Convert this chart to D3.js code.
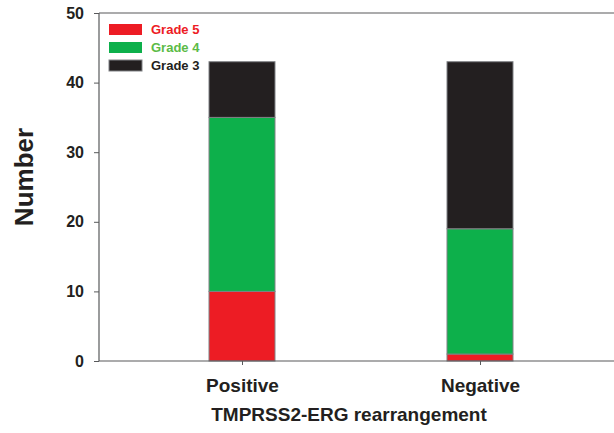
<!DOCTYPE html>
<html><head><meta charset="utf-8">
<script src="https://cdn.jsdelivr.net/npm/d3@7"></script>
<style>body{margin:0;background:#fff}svg{display:block}text{font-family:"Liberation Sans",Arial,sans-serif;font-weight:bold}</style>
</head><body><svg id="c" width="614" height="433"></svg>
<script>
const categories = ["Positive", "Negative"];
const grades = ["Grade 5", "Grade 4", "Grade 3"];
const grade5 = [10, 1];
const grade4 = [25, 18];
const grade3 = [8, 24];
const yTicks = [0, 10, 20, 30, 40, 50];

const colors = {"Grade 5": "#ED1C24", "Grade 4": "#0DB04B", "Grade 3": "#231F20"};
const textColors = {"Grade 5": "#ED1C24", "Grade 4": "#5BBB46", "Grade 3": "#231F20"};

const svg = d3.select("#c");
const mLeft = 99, mRight = 614, mTop = 13, mBottom = 361;
const y = d3.scaleLinear().domain([0, 50]).range([mBottom, mTop]);
const x = d3.scalePoint().domain(categories).range([242, 480]);
const barW = 66;

const rows = categories.map((c, i) => ({cat: c, "Grade 5": grade5[i], "Grade 4": grade4[i], "Grade 3": grade3[i]}));
const stack = d3.stack().keys(grades)(rows);

const axisColor = "#58595B";
svg.append("line").attr("x1", mLeft).attr("x2", mRight).attr("y1", mTop).attr("y2", mTop).attr("stroke", axisColor).attr("stroke-width", 1.2);

svg.append("g").selectAll("g").data(stack).join("g")
  .attr("fill", d => colors[d.key])
  .selectAll("rect").data(d => d).join("rect")
  .attr("x", d => x(d.data.cat) - barW/2)
  .attr("width", barW)
  .attr("y", d => y(d[1]))
  .attr("height", d => y(d[0]) - y(d[1]))
  .attr("stroke", "#808285").attr("stroke-width", 1);

const yAxis = svg.append("g").attr("transform", `translate(${mLeft},0)`)
  .call(d3.axisLeft(y).tickValues(yTicks).tickSize(5).tickPadding(10));
yAxis.select(".domain").attr("stroke", axisColor).attr("stroke-width", 1.2).attr("d", `M0,${mTop}V${mBottom}`);
yAxis.selectAll(".tick line").attr("stroke", axisColor);
yAxis.selectAll("text").attr("font-size", 16).attr("fill", "#231F20");

const xAxis = svg.append("g").attr("transform", `translate(0,${mBottom})`)
  .call(d3.axisBottom(x).tickSize(4).tickPadding(14));
xAxis.select(".domain").attr("stroke", axisColor).attr("stroke-width", 1.2).attr("d", `M${mLeft},0H${mRight}`);
xAxis.selectAll(".tick line").attr("stroke", axisColor);
xAxis.selectAll("text").attr("font-size", 19).attr("fill", "#231F20");

svg.append("text").attr("transform", "translate(33,177) rotate(-90)")
  .attr("text-anchor", "middle").attr("font-size", 26).attr("fill", "#231F20").text("Number");
svg.append("text").attr("x", 349).attr("y", 421).attr("text-anchor", "middle")
  .attr("font-size", 19).attr("fill", "#231F20").text("TMPRSS2-ERG rearrangement");

const leg = svg.append("g");
grades.forEach((g, i) => {
  const yy = 24 + i * 18;
  leg.append("rect").attr("x", 109).attr("y", yy).attr("width", 33).attr("height", 11)
    .attr("fill", colors[g]).attr("stroke", g === "Grade 3" ? "#808285" : "none").attr("stroke-width", 1);
  leg.append("text").attr("x", 151).attr("y", yy + 10).attr("font-size", 13)
    .attr("fill", textColors[g]).text(g);
});
</script></body></html>
